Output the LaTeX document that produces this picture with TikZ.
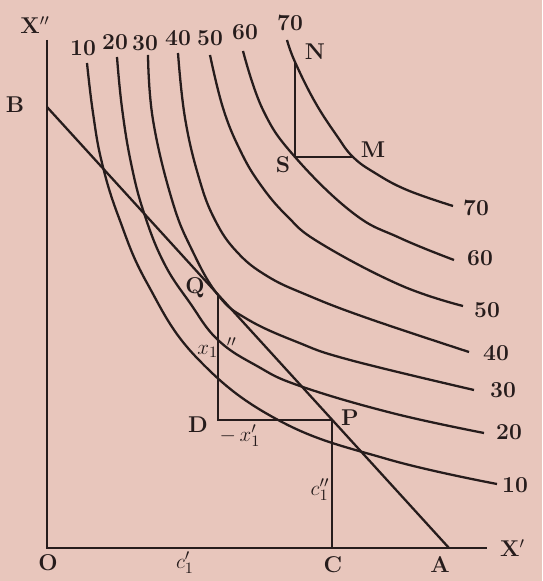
\documentclass[tikz,border=0pt]{standalone}
\usepackage{xcolor}
\usepackage{tikz}
\usetikzlibrary{calc}
\definecolor{paper}{RGB}{232,198,188}
\definecolor{ink}{RGB}{38,28,28}

\begin{document}
\begin{tikzpicture}[
    x=0.02cm, y=0.02cm,
    curve/.style={ink, line width=1.3pt},
    axis/.style={ink, line width=1.6pt},
    lbl/.style={text=ink, font=\fontsize{13}{15}\selectfont\bfseries, inner sep=1pt},
    mlbl/.style={text=ink, font=\fontsize{13}{15}\selectfont, inner sep=1pt}
]
\fill[paper] (-47,-33) rectangle (495,548);
\useasboundingbox (-47,-33) rectangle (495,548);

% points
\coordinate (O) at (0,0);
\coordinate (Ytop) at (0,508);
\coordinate (Xend) at (440,0);
\coordinate (B) at (0,441);
\coordinate (A) at (402,0);
\coordinate (Q) at ($(B)!0.4254!(A)$);
\coordinate (P) at ($(B)!0.7098!(A)$);
\coordinate (D) at (Q |- P);
\coordinate (C) at (P |- O);
\coordinate (S) at (248,391);
\coordinate (N) at (248,486);
\coordinate (M) at (306,391);

% axes, price line, steps
\draw[axis] (Ytop) -- (O) -- (Xend);
\draw[curve] (B) -- (A);
\draw[axis] (Q) -- (D) -- (P);
\draw[curve] (P) -- (C);
\draw[curve] (N) -- (S) -- (M);

% indifference curves
\draw[curve] plot[smooth, tension=0.7] coordinates {(40,485) (46,435) (55,385) (72,330) (100,265) (150,190) (233,127) (340,89) (450,64)};
\draw[curve] plot[smooth, tension=0.7] coordinates {(70,491) (75,440) (84,385) (97,335) (117,285) (143,245) (171,208) (210,182) (253,162) (345,135) (437,115)};
\draw[curve] plot[smooth, tension=0.7] coordinates {(101,493) (106,428) (125,348) (145,298) (171,253) (200,229) (250,206) (303,188) (427,158)};
\draw[curve] plot[smooth, tension=0.7] coordinates {(131,495) (138,430) (152,370) (168,328) (190,296) (220,272) (260,253) (320,230) (422,196)};
\draw[curve] plot[smooth, tension=0.7] coordinates {(163,493) (176,440) (193,398) (213,364) (240,332) (273,305) (353,263) (416,242)};
\draw[curve] plot[smooth, tension=0.7] coordinates {(196,497) (216,438) (248,391) (306,335) (353,310) (407,288)};
\draw[curve] plot[smooth, tension=0.7] coordinates {(240,508) (248,486) (268,446) (290,412) (306,391) (328,375) (360,358) (406,342)};

% curve numbers
\node[lbl] (t10) at (36,500) {10};
\node[lbl] (t20) at (68,506) {20};
\node[lbl] (t30) at (98,505) {30};
\node[lbl] (t40) at (131,510) {40};
\node[lbl] (t50) at (163,510) {50};
\node[lbl] (t60) at (198,516) {60};
\node[lbl] (t70) at (243,525) {70};
\node[lbl] (r70) at (429,340) {70};
\node[lbl] (r60) at (433,290) {60};
\node[lbl] (r50) at (440,238) {50};
\node[lbl] (r40) at (449,195) {40};
\node[lbl] (r30) at (456,158) {30};
\node[lbl] (r20) at (462,116) {20};
\node[lbl] (r10) at (468,63) {10};

% letters
\node[lbl] (lX2) at (-12,523) {X$''$};
\node[lbl, anchor=west] (lX1) at (451,0) {X$'$};
\node[lbl] (lO) at (1,-15) {O};
\node[lbl] (lC) at (286,-17) {C};
\node[lbl] (lA) at (393,-17) {A};
\node[lbl] (lB) at (-32,443) {B};
\node[lbl] (lQ) at (148,260) {Q};
\node[lbl] (lD) at (151,123) {D};
\node[lbl] (lP) at (303,130) {P};
\node[lbl] (lS) at (236,383) {S};
\node[lbl] (lM) at (326,398) {M};
\node[lbl] (lN) at (268,496) {N};
\node[mlbl] (lc1) at (138,-15) {$c_1'$};
\node[mlbl] (lc2) at (273,58) {$c_1''$};
\node[mlbl] (lx2) at (170,200) {$x_1\kern5pt''$};
\node[mlbl] (lx1) at (193,112) {$-\,x_1'$};
\end{tikzpicture}
\end{document}
